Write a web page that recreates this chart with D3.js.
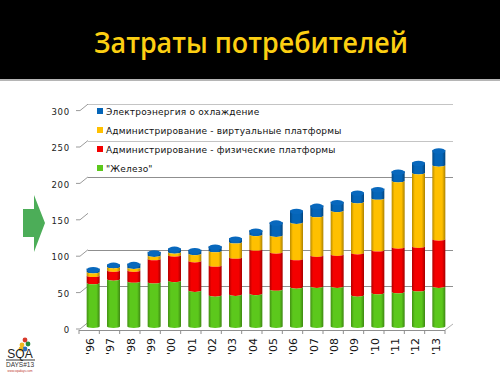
<!DOCTYPE html>
<html>
<head>
<meta charset="utf-8">
<script src="https://cdn.jsdelivr.net/npm/d3@7"></script>
<style>
  html, body { margin: 0; padding: 0; background: #fff; overflow: hidden; }
  svg { display: block; }
</style>
</head>
<body>
<div id="chart"></div>
<script>
const titleText = "Затраты потребителей";
const years = ["'96","'97","'98","'99","'00","'01","'02","'03","'04","'05","'06","'07","'08","'09","'10","'11","'12","'13"];
const hardware = [60,65,62,61,63,49.5,43,44,45,51,54,55,55,43,46,47.5,50,55];
const adminPhysical = [10,12,15,32,35,40.5,41,51,61,51,39,42.5,44,58,59,61.5,60,65];
const adminVirtual = [5,5,4,4.5,4,10,20,21,20,23,50,54.5,60,70,71,91,101,101.5];
const power = [5,4,6,5.5,6,6,7,6,7,19,17,15,13,14,14,14,15,21.5];
const seriesKeys = ["hardware","adminPhysical","adminVirtual","power"];
const seriesColors = ["#5cc81c","#f40000","#ffc000","#0565b8"];
const legendLabels = ["Электроэнергия о охлаждение","Администрирование - виртуальные платформы","Администрирование - физические платформы","\"Железо\""];
const legendColors = ["#0565b8","#ffc000","#f40000","#5cc81c"];
const yTicks = [0,50,100,150,200,250,300];
const gridValues = [50,100,200,250,300];

const width = 500, height = 375;
const svg = d3.select("#chart").append("svg").attr("width", width).attr("height", height);
const defs = svg.append("defs");

// title band
svg.append("rect").attr("width", width).attr("height", 79).attr("fill", "#000");
svg.append("rect").attr("y", 79).attr("width", width).attr("height", 2).attr("fill", "#b5b5b5");
svg.append("text").attr("x", 251).attr("y", 53).attr("text-anchor", "middle")
   .attr("font-family", "Open Sans").attr("font-size", 29).attr("font-weight", 600).attr("fill", "#fccf12")
   .attr("textLength", 314).attr("lengthAdjust", "spacingAndGlyphs")
   .text(titleText);

// scales
const y = d3.scaleLinear().domain([0,300]).range([328,109.6]);
const x = d3.scaleBand().domain(years).range([79,445]);
const color = d3.scaleOrdinal().domain(seriesKeys).range(seriesColors);
const wallX = 9, wallY = 5.5, barW = 13, capRy = 2.8, sideRy = 1.4;

// back wall lines
svg.append("g").selectAll("line").data(gridValues).enter().append("line")
   .attr("x1", 79 + wallX).attr("x2", 445 + 8)
   .attr("y1", d => Math.round(y(d) - wallY) + 0.5).attr("y2", d => Math.round(y(d) - wallY) + 0.5)
   .attr("stroke", d => d >= 250 ? "#c4c4c4" : "#8f8f8f").attr("stroke-width", 1);

// y axis labels
const yAxis = svg.append("g").attr("transform", "translate(70,2)")
   .call(d3.axisLeft(y).tickValues(yTicks).tickSize(0).tickPadding(0));
yAxis.select(".domain").remove();
yAxis.selectAll("text").attr("font-family", "DejaVu Sans").attr("font-size", 8.5).attr("fill", "#222")
   .style("letter-spacing", "0.8px");

// little stubs running from the labels to the wall
svg.append("g").selectAll("path").data(yTicks).enter().append("path")
   .attr("d", d => d3.line()([[76, y(d) + 1], [80, y(d) + 1], [88, y(d) - wallY]]))
   .attr("fill", "none").attr("stroke", "#9a9a9a");

// x axis
const xAxis = svg.append("g").attr("transform", "translate(0,330)")
   .call(d3.axisBottom(x).tickSize(0).tickPadding(0));
xAxis.select(".domain").remove();
xAxis.selectAll("text")
   .attr("font-family", "DejaVu Sans").attr("font-size", 11).attr("fill", "#111")
   .attr("text-anchor", "end").attr("dy", "0.35em")
   .attr("transform", "translate(1,8) rotate(-90)")
   .attr("y", 0).attr("x", 0);
svg.append("line").attr("x1", 79).attr("x2", 445).attr("y1", 330.5).attr("y2", 330.5).attr("stroke", "#8f8f8f");
svg.append("g").selectAll("line").data(d3.range(years.length + 1)).enter().append("line")
   .attr("x1", d => 79 + d * x.step()).attr("x2", d => 79 + d * x.step())
   .attr("y1", 330).attr("y2", 334).attr("stroke", "#8f8f8f");
svg.append("line").attr("x1", 445).attr("y1", 330).attr("x2", 453).attr("y2", 324).attr("stroke", "#b0b0b0");

// cylinder shading, one gradient per series
seriesKeys.forEach(function(k){
    const c = d3.color(color(k));
    const g = defs.append("linearGradient").attr("id", "grad-" + k);
    g.append("stop").attr("offset", "0%").attr("stop-color", c.darker(0.9));
    g.append("stop").attr("offset", "22%").attr("stop-color", c);
    g.append("stop").attr("offset", "75%").attr("stop-color", c);
    g.append("stop").attr("offset", "100%").attr("stop-color", c.darker(1.1));
});

const tableData = years.map((yr,i) => ({
    year: yr, hardware: hardware[i], adminPhysical: adminPhysical[i],
    adminVirtual: adminVirtual[i], power: power[i]
}));
const stacked = d3.stack().keys(seriesKeys)(tableData);

function cylinder(d) {
    const cx = x(d.data.year) + x.bandwidth() / 2 + 4;
    const l = cx - barW / 2, r = cx + barW / 2;
    // boundary arcs are shallow, lifted so their lowest point sits on the value
    const top = y(d[1]) - sideRy, bot = y(d[0]) - sideRy;
    return `M${l},${top} A${barW/2},${sideRy} 0 0 0 ${r},${top} L${r},${bot} A${barW/2},${sideRy} 0 0 1 ${l},${bot} Z`;
}

// bars, upper series drawn first so the lower arcs sit over them
svg.append("g").selectAll("g").data(stacked.slice().reverse()).enter().append("g")
   .selectAll("path")
   .data(s => s.map(d => Object.assign(d, {key: s.key})))
   .enter().append("path")
   .attr("d", cylinder)
   .attr("fill", d => "url(#grad-" + d.key + ")");

// top caps
svg.append("g").selectAll("ellipse").data(stacked[3]).enter().append("ellipse")
   .attr("cx", d => x(d.data.year) + x.bandwidth() / 2 + 4)
   .attr("cy", d => y(d[1]))
   .attr("rx", barW / 2).attr("ry", capRy)
   .attr("fill", "#0868bd");

// legend
const legend = svg.append("g").selectAll("g").data(legendLabels).enter().append("g")
   .attr("transform", (d,i) => "translate(97," + (108 + i * 19) + ")");
legend.append("rect").attr("width", 6).attr("height", 6)
   .attr("fill", (d,i) => legendColors[i]);
legend.append("text").attr("x", 9).attr("y", 6.5)
   .attr("font-family", "DejaVu Sans").attr("font-size", 9).attr("fill", "#111")
   .style("letter-spacing", "0.2px")
   .text(d => d);

// green arrow on the left
svg.append("path")
   .attr("d", "M23,209 L34,209 L34,195 L45,223 L34,252 L34,237 L23,237 Z")
   .attr("fill", "#4cad58");

// conference logo
const logo = svg.append("g");
logo.selectAll("circle").data([[25,340,"#d8392b"],[28,344,"#2a8a3c"],[22,345,"#f2b71f"],[25,349,"#2c6fc0"],[21,349,"#f2b71f"]])
   .enter().append("circle").attr("cx", d => d[0]).attr("cy", d => d[1]).attr("r", 2.4).attr("fill", d => d[2]);
logo.append("text").attr("x", 20).attr("y", 358).attr("text-anchor", "middle")
   .attr("font-family", "Liberation Sans").attr("font-size", 12).attr("fill", "#222").text("SQA");
logo.append("line").attr("x1", 6).attr("x2", 35).attr("y1", 360).attr("y2", 360).attr("stroke", "#333");
logo.append("text").attr("x", 20).attr("y", 367).attr("text-anchor", "middle")
   .attr("font-family", "Liberation Sans").attr("font-size", 6.5).attr("fill", "#333").text("DAYS#13");
logo.append("text").attr("x", 20).attr("y", 371.5).attr("text-anchor", "middle")
   .attr("font-family", "Liberation Sans").attr("font-size", 3).attr("fill", "#c0392b").text("www.sqadays.com");
</script>
</body>
</html>
